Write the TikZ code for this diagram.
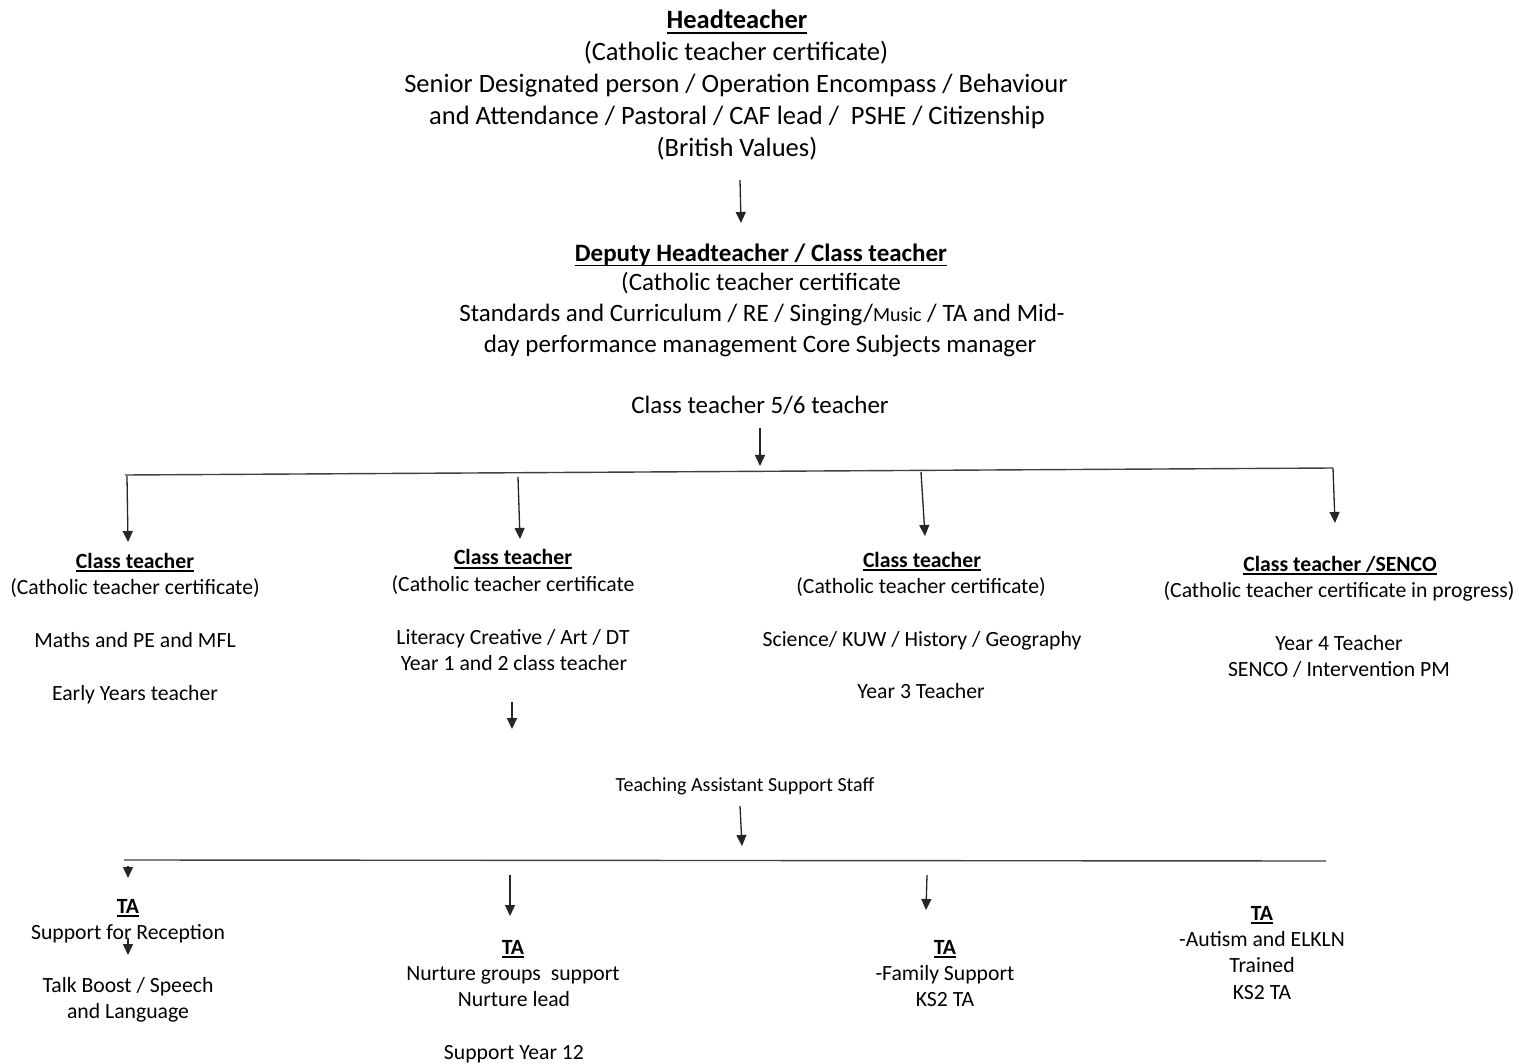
\documentclass[tikz,border=0pt]{standalone}
\usepackage{fontspec}
\setmainfont{Carlito}
\usetikzlibrary{arrows.meta}
\newsavebox\hdbox
\newcommand\hd[1]{\sbox\hdbox{\bfseries #1}\rlap{\rule[-0.17em]{\wd\hdbox}{0.06em}}\usebox\hdbox}
\tikzset{
  txt/.style={anchor=base, inner sep=0pt, outer sep=0pt, text=black, yshift=-2pt},
  big/.style={txt, font=\fontsize{26.5}{32}\selectfont},
  mid/.style={txt, font=\fontsize{25}{31}\selectfont},
  small/.style={txt, font=\fontsize{21.7}{26}\selectfont},
  tiny/.style={txt, font=\fontsize{20}{24}\selectfont},
  conn/.style={line width=1.3pt, draw=black!85, -{Triangle[length=11pt,width=10pt]}},
  bus/.style={line width=1.4pt, draw=black!75},
}
\begin{document}
\begin{tikzpicture}[x=1pt,y=-1pt]
\useasboundingbox (0,0) rectangle (1519,1064);
\fill[white] (0,0) rectangle (1519,1064);

% Headteacher
\node[big] (h1) at (737,27) {\hd{Headteacher}};
\node[big] (h2) at (736,59) {(Catholic teacher certificate)};
\node[big] (h3) at (736,91) {Senior Designated person / Operation Encompass / Behaviour};
\node[big] (h4) at (737,123) {and Attendance / Pastoral / CAF lead /~~PSHE / Citizenship};
\node[big] (h5) at (737,155) {(British Values)};

% Deputy
\node[mid] (d1) at (761,260) {\hd{Deputy Headteacher / Class teacher}};
\node[mid] (d2) at (761,289) {(Catholic teacher certificate};
\node[mid] (d3) at (762,320) {Standards and Curriculum / RE / Singing/{\fontsize{20}{24}\selectfont Music} / TA and Mid-};
\node[mid] (d4) at (760,351) {day performance management Core Subjects manager};
\node[mid] (d5) at (760,412) {Class teacher 5/6 teacher};

% Class teachers
\node[small] (b1a) at (135,566) {\hd{Class teacher}};
\node[small] (b1b) at (135,592) {(Catholic teacher certificate)};
\node[small] (b1c) at (135,645) {Maths and PE and MFL};
\node[small] (b1d) at (135,698) {Early Years teacher};

\node[small] (b2a) at (513,563) {\hd{Class teacher}};
\node[small] (b2b) at (513,589) {(Catholic teacher certificate};
\node[small] (b2c) at (513,642) {Literacy Creative / Art / DT};
\node[small] (b2d) at (514,668) {Year 1 and 2 class teacher};

\node[small] (b3a) at (922,565) {\hd{Class teacher}};
\node[small] (b3b) at (921,591) {(Catholic teacher certificate)};
\node[small] (b3c) at (922,644) {Science/ KUW / History / Geography};
\node[small] (b3d) at (921,696) {Year 3 Teacher};

\node[small] (b4a) at (1340,569) {\hd{Class teacher /SENCO}};
\node[small] (b4b) at (1339,595) {(Catholic teacher certificate in progress)};
\node[small] (b4c) at (1339,648) {Year 4 Teacher};
\node[small] (b4d) at (1339,674) {SENCO / Intervention PM};

% TA support staff
\node[tiny] (ts) at (745,789) {Teaching Assistant Support Staff};

\node[small] (t1a) at (128,911) {\hd{TA}};
\node[small] (t1b) at (128,937) {Support for Reception};
\node[small] (t1c) at (128,990) {Talk Boost / Speech};
\node[small] (t1d) at (128,1016) {and Language};

\node[small] (t2a) at (513,952) {\hd{TA}};
\node[small] (t2b) at (513,978) {Nurture groups~~support};
\node[small] (t2c) at (514,1004) {Nurture lead};
\node[small] (t2d) at (514,1057) {Support Year 12};

\node[small] (t3a) at (945,952) {\hd{TA}};
\node[small] (t3b) at (945,978) {-Family Support};
\node[small] (t3c) at (945,1004) {KS2 TA};

\node[small] (t4a) at (1262,918) {\hd{TA}};
\node[small] (t4b) at (1262,944) {-Autism and ELKLN};
\node[small] (t4c) at (1262,970) {Trained};
\node[small] (t4d) at (1262,997) {KS2 TA};

% connector end points
\coordinate (a1s) at (740,180);  \coordinate (a1e) at (741,223);
\coordinate (a2s) at (760,428);  \coordinate (a2e) at (760,466);
\coordinate (busL) at (125,475); \coordinate (busR) at (1333,468);
\coordinate (c1s) at (127,476);  \coordinate (c1e) at (128,542);
\coordinate (c2s) at (518,477);  \coordinate (c2e) at (520,539);
\coordinate (c3s) at (921,472);  \coordinate (c3e) at (925,536);
\coordinate (c4e) at (1335,523);
\coordinate (a3s) at (512,702);  \coordinate (a3e) at (512,729);
\coordinate (a4s) at (740,806);  \coordinate (a4e) at (742,846);
\coordinate (bus2L) at (124,860); \coordinate (bus2R) at (1326,861);
\coordinate (e1s) at (128,866);  \coordinate (e1e) at (128,878);
\coordinate (e2s) at (510,875);  \coordinate (e2e) at (510,916);
\coordinate (e3s) at (927,875);  \coordinate (e3e) at (926,910);
\coordinate (e4s) at (128,938);  \coordinate (e4e) at (128,955);

\draw[conn] (a1s) -- (a1e);
\draw[conn] (a2s) -- (a2e);
\draw[bus] (busL) -- (busR);
\draw[conn] (c1s) -- (c1e);
\draw[conn] (c2s) -- (c2e);
\draw[conn] (c3s) -- (c3e);
\draw[conn] (busR) -- (c4e);
\draw[conn] (a3s) -- (a3e);
\draw[conn] (a4s) -- (a4e);
\draw[bus] (bus2L) -- (bus2R);
\draw[conn] (e1s) -- (e1e);
\draw[conn] (e2s) -- (e2e);
\draw[conn] (e3s) -- (e3e);
\draw[conn] (e4s) -- (e4e);
\end{tikzpicture}
\end{document}
